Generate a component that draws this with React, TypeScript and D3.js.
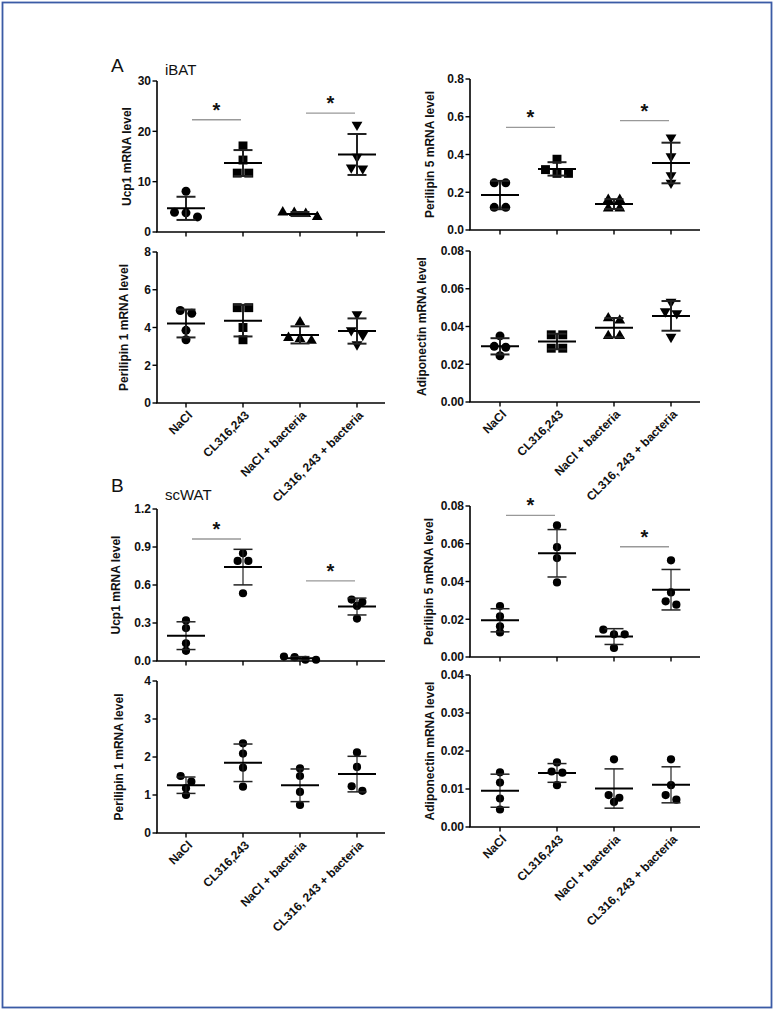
import React from "react";
import * as d3 from "d3";

const categories = ["NaCl", "CL316,243", "NaCl + bacteria", "CL316, 243 + bacteria"];

// iBAT (panel A) — 4 mice per group
const ibatUcp1 = [[8.1, 3.9, 3.8, 3.0], [17.1, 14.3, 11.7, 11.7], [3.0, 3.6, 3.9, 3.8], [21.3, 14.9, 12.6, 12.8]];
const ibatPlin5 = [[0.25, 0.25, 0.12, 0.12], [0.375, 0.32, 0.3, 0.3], [0.16, 0.16, 0.115, 0.115], [0.49, 0.39, 0.29, 0.25]];
const ibatPlin1 = [[4.9, 4.75, 3.85, 3.35], [5.05, 5.05, 4.0, 3.35], [4.28, 3.45, 3.3, 3.4], [4.7, 3.85, 3.6, 3.1]];
const ibatAdipoq = [[0.035, 0.0295, 0.029, 0.0245], [0.0356, 0.0356, 0.0285, 0.0285], [0.0432, 0.0444, 0.035, 0.035], [0.053, 0.048, 0.047, 0.0345]];

// scWAT (panel B)
const scwatUcp1 = [[0.32, 0.26, 0.14, 0.08], [0.85, 0.79, 0.79, 0.535], [0.01, 0.035, 0.01, 0.03], [0.465, 0.485, 0.435, 0.335]];
const scwatPlin5 = [[0.027, 0.0215, 0.0163, 0.013], [0.0697, 0.0582, 0.0524, 0.0395], [0.0145, 0.012, 0.012, 0.0048], [0.0512, 0.0342, 0.0277, 0.0295]];
const scwatPlin1 = [[1.5, 1.35, 1.18, 1.0], [2.36, 2.09, 1.72, 1.22], [1.7, 1.5, 1.08, 0.74], [2.12, 1.74, 1.11, 1.23]];
const scwatAdipoq = [[0.0144, 0.0117, 0.0075, 0.0046], [0.017, 0.0146, 0.0143, 0.011], [0.0178, 0.0084, 0.0077, 0.0066], [0.0178, 0.011, 0.0084, 0.0072]];

// significance brackets: [fromGroup, toGroup, yValue]
const sigIbatUcp1 = [[0, 1, 22.3], [2, 3, 23.6]];
const sigIbatPlin5 = [[0, 1, 0.544], [2, 3, 0.579]];
const sigScwatUcp1 = [[0, 1, 0.963], [2, 3, 0.632]];
const sigScwatPlin5 = [[0, 1, 0.075], [2, 3, 0.0584]];

// y-axis tick values
const ticksIbatUcp1 = [0, 10, 20, 30];
const ticksIbatPlin5 = [0, 0.2, 0.4, 0.6, 0.8];
const ticksIbatPlin1 = [0, 2, 4, 6, 8];
const ticksIbatAdipoq = [0, 0.02, 0.04, 0.06, 0.08];
const ticksScwatUcp1 = [0, 0.3, 0.6, 0.9, 1.2];
const ticksScwatPlin5 = [0, 0.02, 0.04, 0.06, 0.08];
const ticksScwatPlin1 = [0, 1, 2, 3, 4];
const ticksScwatAdipoq = [0, 0.01, 0.02, 0.03, 0.04];

const FONT = "'Liberation Sans', Arial, Helvetica, sans-serif";

type PanelCfg = {
  data: number[][];
  ticks: number[];
  fmt: string;
  title: string;
  titleX: number;
  axisX: number;
  axisEnd: number;
  catRange: [number, number];
  yRange: [number, number];
  sig?: number[][];
  shapes: string[];
  thin: boolean;
  xLabels: boolean;
};

const LEFT = { axisX: 157, axisEnd: 385, catRange: [186, 357] as [number, number] };
const RIGHT = { axisX: 470, axisEnd: 700, catRange: [500, 671] as [number, number] };

const shapesA = ["circle", "square", "up", "down"];
const shapesB = ["circle", "circle", "circle", "circle"];

const panels: PanelCfg[] = [
  { data: ibatUcp1, ticks: ticksIbatUcp1, fmt: "d", title: "Ucp1 mRNA level", titleX: 131, ...LEFT, yRange: [232, 81], sig: sigIbatUcp1, shapes: shapesA, thin: false, xLabels: false },
  { data: ibatPlin5, ticks: ticksIbatPlin5, fmt: ".1f", title: "Perilipin 5 mRNA level", titleX: 434, ...RIGHT, yRange: [230, 79], sig: sigIbatPlin5, shapes: shapesA, thin: false, xLabels: false },
  { data: ibatPlin1, ticks: ticksIbatPlin1, fmt: "d", title: "Perilipin 1 mRNA level", titleX: 128, ...LEFT, yRange: [403, 252], shapes: shapesA, thin: false, xLabels: true },
  { data: ibatAdipoq, ticks: ticksIbatAdipoq, fmt: ".2f", title: "Adiponectin mRNA level", titleX: 426, ...RIGHT, yRange: [402, 251], shapes: shapesA, thin: false, xLabels: true },
  { data: scwatUcp1, ticks: ticksScwatUcp1, fmt: ".1f", title: "Ucp1 mRNA level", titleX: 120, ...LEFT, yRange: [661, 509], sig: sigScwatUcp1, shapes: shapesB, thin: true, xLabels: false },
  { data: scwatPlin5, ticks: ticksScwatPlin5, fmt: ".2f", title: "Perilipin 5 mRNA level", titleX: 433, ...RIGHT, yRange: [657, 506], sig: sigScwatPlin5, shapes: shapesB, thin: true, xLabels: false },
  { data: scwatPlin1, ticks: ticksScwatPlin1, fmt: "d", title: "Perilipin 1 mRNA level", titleX: 123, ...LEFT, yRange: [833, 681], shapes: shapesB, thin: true, xLabels: true },
  { data: scwatAdipoq, ticks: ticksScwatAdipoq, fmt: ".2f", title: "Adiponectin mRNA level", titleX: 434, ...RIGHT, yRange: [827, 675], shapes: shapesB, thin: true, xLabels: true },
];

function symbolPath(shape: string, size: number) {
  if (shape === "square") return d3.symbol(d3.symbolSquare, size * 1.25)()!;
  if (shape === "up" || shape === "down") return d3.symbol(d3.symbolTriangle, size * 0.8)()!;
  return d3.symbol(d3.symbolCircle, size)()!;
}

// spread overlapping points horizontally (rows of near-equal values)
function spread(pys: number[], r: number) {
  const idx = pys.map((_, i) => i).sort((a, b) => pys[a] - pys[b]);
  const off = new Array(pys.length).fill(0);
  let row: number[] = [];
  const flush = () => {
    const n = row.length;
    row.forEach((k, j) => (off[k] = (j - (n - 1) / 2) * (2 * r + 2.5)));
    row = [];
  };
  idx.forEach((k) => {
    if (row.length && pys[k] - pys[row[0]] > 1.5 * r) flush();
    row.push(k);
  });
  flush();
  return off;
}

function Panel({ p }: { p: PanelCfg }) {
  const maxT = p.ticks[p.ticks.length - 1];
  const y = d3.scaleLinear().domain([0, maxT]).range(p.yRange);
  const x = d3.scalePoint<string>().domain(categories).range(p.catRange);
  const y0 = p.yRange[0];
  const y1 = p.yRange[1];
  const fmt = d3.format(p.fmt);
  const r = p.thin ? 4.1 : 4.5;
  const area = Math.PI * r * r;
  const midY = (y0 + y1) / 2;
  return (
    <g>
      {/* axes */}
      <line x1={p.axisX} x2={p.axisX} y1={y0} y2={y1} stroke="#000" strokeWidth={1.6} />
      <line x1={p.axisX - 0.8} x2={p.axisEnd} y1={y0} y2={y0} stroke="#000" strokeWidth={1.6} />
      {p.ticks.map((t) => (
        <g key={t}>
          <line x1={p.axisX - 4.5} x2={p.axisX} y1={y(t)} y2={y(t)} stroke="#000" strokeWidth={1.4} />
          <text x={p.axisX - 6} y={y(t)} dy="0.36em" textAnchor="end" fontSize={12} fontWeight="bold" fontFamily={FONT} fill="#111">
            {fmt(t)}
          </text>
        </g>
      ))}
      {categories.map((c) => (
        <line key={c} x1={x(c)} x2={x(c)} y1={y0} y2={y0 + 4.5} stroke="#000" strokeWidth={1.4} />
      ))}
      <text transform={`translate(${p.titleX},${midY}) rotate(-90)`} textAnchor="middle" fontSize={12} fontWeight="bold" fontFamily={FONT} fill="#111">
        {p.title}
      </text>
      {p.xLabels &&
        categories.map((c) => (
          <text key={c} transform={`translate(${x(c)! + 7},${y0 + 13}) rotate(-45)`} textAnchor="end" fontSize={12} fontWeight="bold" fontFamily={FONT} fill="#111">
            {c}
          </text>
        ))}
      {/* groups */}
      {p.data.map((vals, gi) => {
        const cx = x(categories[gi])!;
        const m = d3.mean(vals)!;
        const sd = d3.deviation(vals)!;
        const pys = vals.map((v) => y(v));
        const offs = spread(pys, r);
        const shape = p.shapes[gi];
        const path = symbolPath(shape, area);
        const wW = p.thin ? 1.2 : 2;
        const capW = p.thin ? 1.5 : 2;
        return (
          <g key={gi}>
            {vals.map((v, k) => (
              <path key={k} d={path} fill="#000" transform={`translate(${cx + offs[k]},${y(v)})${shape === "down" ? " rotate(180)" : ""}`} />
            ))}
            <line x1={cx} x2={cx} y1={y(m + sd)} y2={y(Math.max(m - sd, 0))} stroke="#222" strokeWidth={wW} />
            <line x1={cx - 9.5} x2={cx + 9.5} y1={y(m + sd)} y2={y(m + sd)} stroke="#222" strokeWidth={capW} />
            <line x1={cx - 9.5} x2={cx + 9.5} y1={y(Math.max(m - sd, 0))} y2={y(Math.max(m - sd, 0))} stroke="#222" strokeWidth={capW} />
            <line x1={cx - 19} x2={cx + 19} y1={y(m)} y2={y(m)} stroke="#000" strokeWidth={2} />
          </g>
        );
      })}
      {p.sig &&
        p.sig.map(([a, b, v], i) => {
          const xa = x(categories[a])! + 6;
          const xb = x(categories[b])! - 2;
          return (
            <g key={i}>
              <line x1={xa} x2={xb} y1={y(v)} y2={y(v)} stroke="#999" strokeWidth={1.3} />
              <text x={(xa + xb) / 2} y={y(v) - 3} textAnchor="middle" fontSize={20} fontWeight="bold" fontFamily={FONT} fill="#111">
                *
              </text>
            </g>
          );
        })}
    </g>
  );
}

export default function App() {
  return (
    <svg width={774} height={1011} style={{ position: "absolute", left: 0, top: 0, background: "#fff" }}>
      <rect x={0} y={0} width={774} height={1011} fill="#fff" />
      <rect x={2.5} y={2.5} width={769} height={1005} fill="none" stroke="#3b5ba5" strokeWidth={1.8} />
      <text x={111} y={72} fontSize={19} fontFamily={FONT} fill="#111">A</text>
      <text x={165} y={75} fontSize={15} fontFamily={FONT} fill="#111">iBAT</text>
      <text x={111} y={492} fontSize={19} fontFamily={FONT} fill="#111">B</text>
      <text x={165} y={500} fontSize={15} fontFamily={FONT} fill="#111">scWAT</text>
      {panels.map((p, i) => (
        <Panel key={i} p={p} />
      ))}
    </svg>
  );
}
